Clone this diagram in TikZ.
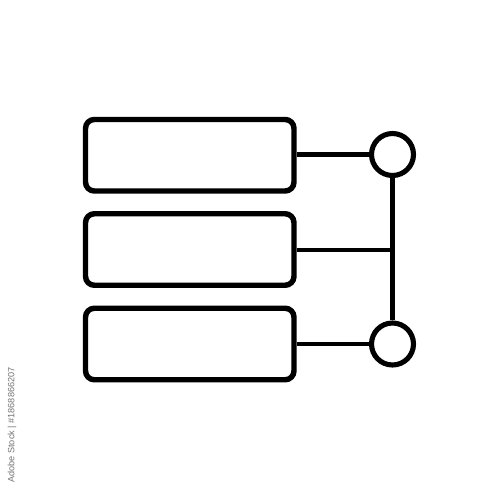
\documentclass[tikz,border=0pt]{standalone}
\usepackage{fontspec}
\setsansfont{Liberation Sans}
\begin{document}
\begin{tikzpicture}[x=0.02cm,y=-0.02cm,
  bar/.style={draw=black,line width=3.1pt,rounded corners=5pt,minimum width=4.17cm,minimum height=1.43cm,inner sep=0pt},
  dot/.style={draw=black,line width=2.9pt,circle,minimum size=0.84cm,inner sep=0pt},
  link/.style={draw=black,line width=2.3pt}]
\useasboundingbox (0,0) rectangle (500,500);
\node[bar] (r1) at (189.75,155.25) {};
\node[bar] (r2) at (189.75,249.5) {};
\node[bar] (r3) at (189.75,344) {};
\node[dot] (c1) at (392.5,154.5) {};
\node[dot] (c2) at (392.5,344) {};
\coordinate (j) at (392.5,250);
\draw[link] (r1.east |- c1.west) -- (c1.west);
\draw[link] (r2.east |- j) -- (j);
\draw[link] (r3.east |- c2.west) -- (c2.west);
\draw[link] (c1.south) -- (c2.north);
\node[rotate=90,text=black!55,font=\sffamily\fontsize{5.2}{6}\selectfont,inner sep=0pt] (wm) at (12,425) {Adobe Stock | \#1868866207};
\end{tikzpicture}
\end{document}
